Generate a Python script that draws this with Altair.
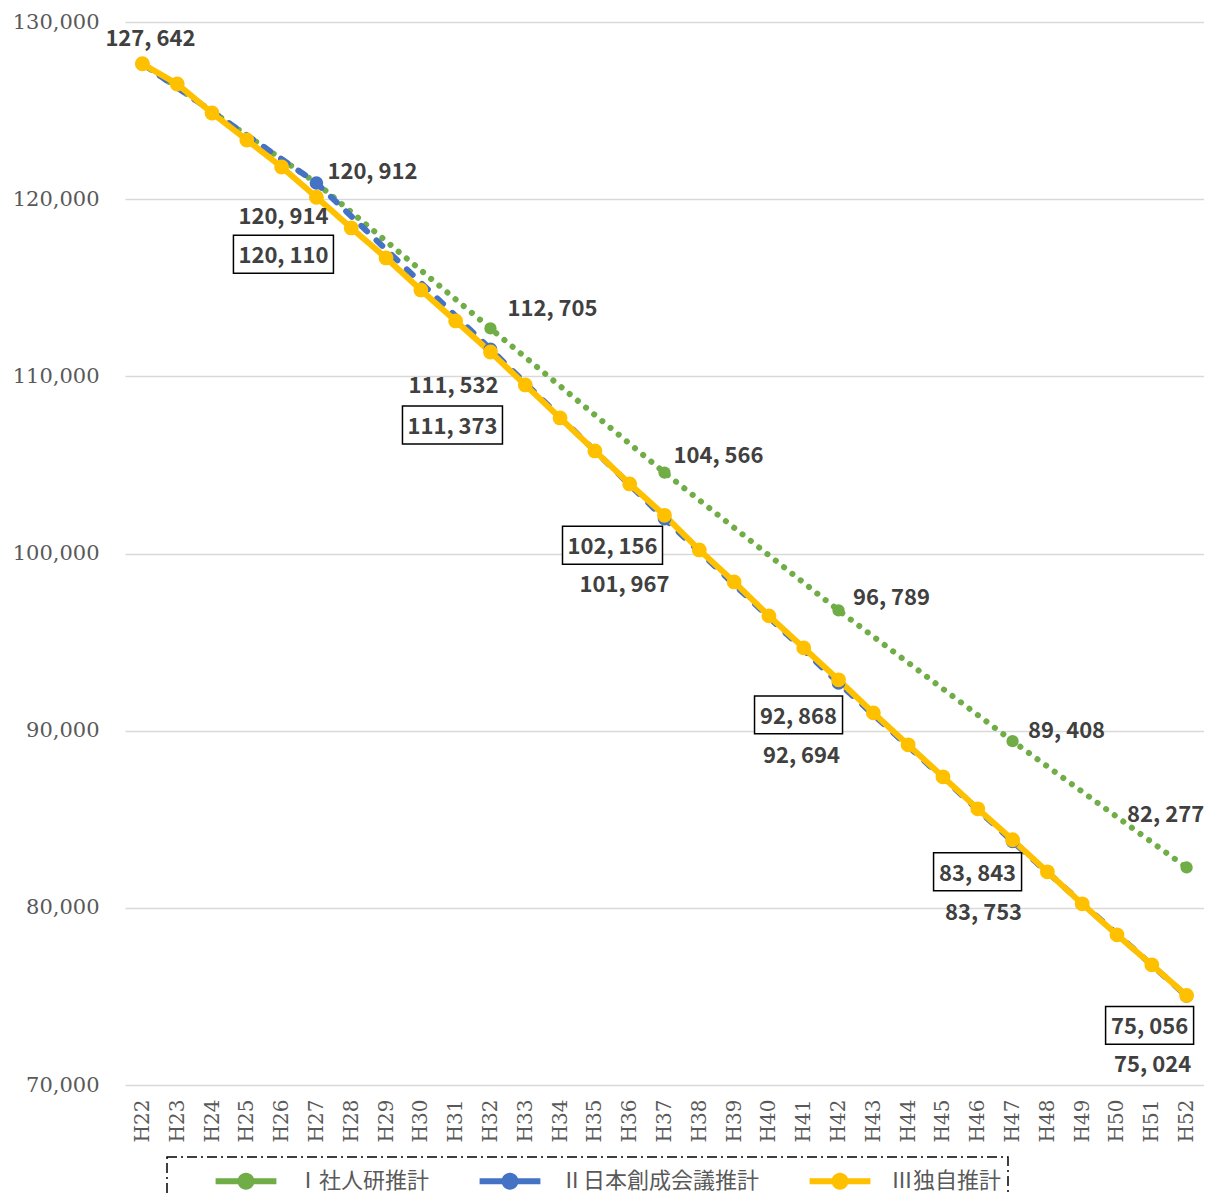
import altair as alt
import pandas as pd

# ---------------- data ----------------
years = ["H22", "H23", "H24", "H25", "H26", "H27", "H28", "H29", "H30", "H31",
         "H32", "H33", "H34", "H35", "H36", "H37", "H38", "H39", "H40", "H41",
         "H42", "H43", "H44", "H45", "H46", "H47", "H48", "H49", "H50", "H51", "H52"]
five_years = ["H22", "H27", "H32", "H37", "H42", "H47", "H52"]
series_names = ["Ⅰ社人研推計", "Ⅱ日本創成会議推計", "Ⅲ独自推計"]

shajinken = [127642, 120912, 112705, 104566, 96789, 89408, 82277]
sousei = [127642, 120914, 111532, 101967, 92694, 83753, 75024]
dokuji = [127642, 126501, 124865, 123341, 121817, 120110, 118375, 116682, 114876, 113126,
          111373, 109515, 107652, 105790, 103928, 102156, 100203, 98397, 96479, 94673,
          92868, 91004, 89199, 87393, 85587, 83843, 82031, 80226, 78476, 76783, 75056]

rows = []
for y, v in zip(five_years, shajinken):
    rows.append({"year": y, "series": series_names[0], "value": v})
for y, v in zip(five_years, sousei):
    rows.append({"year": y, "series": series_names[1], "value": v})
for y, v in zip(years, dokuji):
    rows.append({"year": y, "series": series_names[2], "value": v})
df = pd.DataFrame(rows)
df["label"] = df["value"].map(lambda v: f"{v:,}".replace(",", ", "))
df["series_marker"] = df["series"]

# ---------------- styles ----------------
colors = ["#70AD47", "#4472C4", "#FFC000"]
dashes = [[0.1, 10.5], [8, 13], [1, 0]]
line_widths = [6, 6, 6]
marker_sizes = [150, 220, 220]

# data-label placement (series index, year, dx, dy, boxed) - pixel offsets from the point
label_layout = [
    (2, "H22", 8, -25, False),
    (0, "H27", 56, -11, False), (0, "H32", 62, -19, False), (0, "H37", 54, -17, False),
    (0, "H42", 53, -12, False), (0, "H47", 54, -10, False), (0, "H52", -21, -52, False),
    (1, "H27", -33, 34, False), (1, "H32", -37, 37, False), (1, "H37", -40, 66, False),
    (1, "H42", -37, 73, False), (1, "H47", -29, 72, False), (1, "H52", -34, 69, False),
    (2, "H27", -33, 59, True), (2, "H32", -38, 75, True), (2, "H37", -52, 32, True),
    (2, "H42", -40, 37, True), (2, "H47", -35, 34, True), (2, "H52", -37, 32, True),
]

# legend symbol: a line through a marker (unit-square path, scaled by symbol size)
legend_symbol = ("M-1.9,-0.19L1.9,-0.19L1.9,0.19L-1.9,0.19Z"
                 "M0.53,0A0.53,0.53,0,1,1,-0.53,0A0.53,0.53,0,1,1,0.53,0Z")

# ---------------- encodings ----------------
x_enc = alt.X("year:N", sort=years,
              scale=alt.Scale(type="point", domain=years, padding=0.5),
              axis=alt.Axis(title=None, labelAngle=-90, labelFont="DejaVu Serif",
                            labelFontSize=20, labelColor="#595959", labelPadding=14,
                            ticks=False, domain=False, grid=False))
y_enc = alt.Y("value:Q",
              scale=alt.Scale(domain=[70000, 130000], nice=False, zero=False),
              axis=alt.Axis(title=None, values=[70000, 80000, 90000, 100000, 110000, 120000, 130000],
                            format=",.0f", labelFont="DejaVu Serif", labelFontSize=21,
                            labelColor="#595959", labelPadding=26, ticks=False, domain=False,
                            grid=True, gridColor="#d9d9d9", gridWidth=1.3))

legend_def = alt.Legend(title=None, orient="none", direction="horizontal",
                        legendX=42, legendY=1135, columns=3,
                        symbolType=legend_symbol, symbolSize=1024, symbolStrokeWidth=4,
                        symbolStrokeColor="transparent",
                        symbolOffset=55, labelOffset=33, labelLimit=400,
                        labelFont="Noto Sans CJK JP", labelFontSize=22, labelColor="#595959",
                        columnPadding=7, padding=6, strokeColor="black")

base = alt.Chart(df)

lines = base.mark_line(strokeCap="round", strokeJoin="round").encode(
    x=x_enc, y=y_enc,
    color=alt.Color("series:N", scale=alt.Scale(domain=series_names, range=colors), legend=None),
    strokeDash=alt.StrokeDash("series:N", scale=alt.Scale(domain=series_names, range=dashes),
                              legend=None),
    strokeWidth=alt.StrokeWidth("series:N", scale=alt.Scale(domain=series_names, range=line_widths),
                                legend=None),
)

points = base.mark_point(filled=True, opacity=1).encode(
    x=x_enc, y=y_enc,
    fill=alt.Fill("series_marker:N", scale=alt.Scale(range=colors), legend=legend_def),
    size=alt.Size("series:N", scale=alt.Scale(domain=series_names, range=marker_sizes),
                  legend=None),
)

label_font = dict(font="Noto Sans CJK JP", fontSize=22, fontWeight="bold", color="#404040")
box6 = "M-1,-0.38L1,-0.38L1,0.38L-1,0.38Z"
box5 = "M-1,-0.43L1,-0.43L1,0.43L-1,0.43Z"

box_layers = []
text_layers = []
for si, yr, dx, dy, boxed in label_layout:
    sel = base.transform_filter(alt.datum.series == series_names[si]).transform_filter(
        alt.datum.year == yr)
    if boxed:
        big = dokuji[years.index(yr)] >= 100000
        box_layers.append(sel.mark_point(
            shape=box6 if big else box5, size=10000 if big else 7744,
            filled=True, fill="white", stroke="black", strokeWidth=1.5, opacity=1,
            xOffset=dx, yOffset=dy - 2).encode(x=x_enc, y=y_enc))
    text_layers.append(sel.mark_text(dx=dx, dy=dy, baseline="middle", align="center",
                                     **label_font).encode(x=x_enc, y=y_enc, text="label:N"))

chart = alt.layer(lines, points, *box_layers, *text_layers).properties(
    width=1079, height=1063,
    autosize=alt.AutoSizeParams(type="none"),
    padding={"left": 117, "top": 14, "right": 0, "bottom": 109},
    background="white",
).configure_view(stroke=None).configure_legend(strokeDash=[10, 4, 2, 4], strokeWidth=1.5)

chart.save("out.html", embed_options={"renderer": "svg", "actions": False})
